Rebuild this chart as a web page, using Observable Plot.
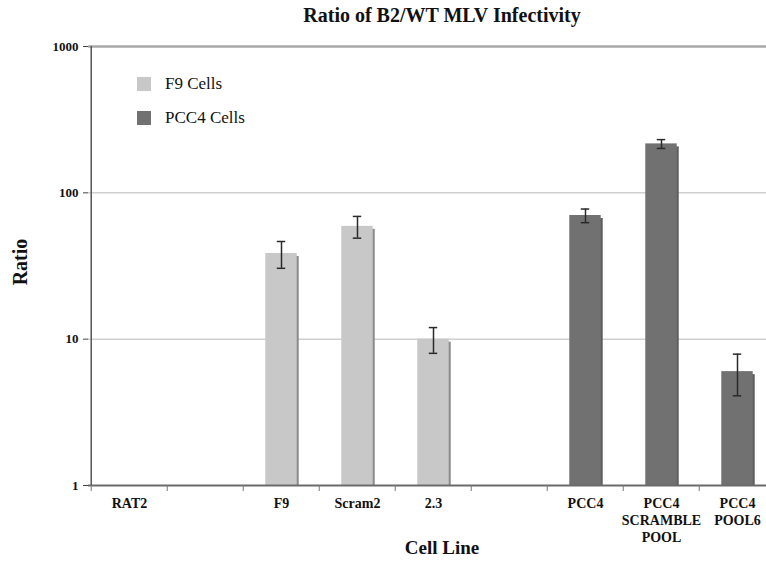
<!DOCTYPE html>
<html>
<head>
<meta charset="utf-8">
<script src="https://cdn.jsdelivr.net/npm/d3@7"></script>
<script src="https://cdn.jsdelivr.net/npm/@observablehq/plot@0.6"></script>
<style>
  html, body { margin: 0; padding: 0; background: #fff; overflow: hidden; }
  #wrap { position: relative; width: 766px; height: 571px; overflow: hidden; font-family: "Liberation Serif", "DejaVu Serif", serif; }
  #chart { position: absolute; left: 0; top: 0; width: 800px; }
  #chart svg { max-width: none !important; width: 800px; height: 571px; }
  .abs { position: absolute; white-space: nowrap; color: #111; }
  #title { left: 88px; width: 708px; top: 4px; text-align: center; font-weight: bold; font-size: 20px; }
  #xlabel { left: 88px; width: 708px; top: 537px; text-align: center; font-weight: bold; font-size: 19px; }
  #ylabel { left: 20px; top: 262px; transform: translate(-50%, -50%) rotate(-90deg); font-weight: bold; font-size: 20px; }
  .leg { left: 137px; font-size: 17px; display: flex; align-items: center; }
  .sw { width: 14px; height: 14px; display: inline-block; margin-right: 14px; }
</style>
</head>
<body>
<div id="wrap">
  <div id="chart"></div>
  <div id="title" class="abs">Ratio of B2/WT MLV Infectivity</div>
  <div id="ylabel" class="abs">Ratio</div>
  <div id="xlabel" class="abs">Cell Line</div>
  <div id="legend"></div>
</div>
<script>
// ---- data ----
const categories = ["RAT2", "gapA", "F9", "Scram2", "2.3", "gapB", "PCC4", "PCC4 SCRAMBLE POOL", "PCC4 POOL6"];
const tickLabels = ["RAT2", "", "F9", "Scram2", "2.3", "", "PCC4", "PCC4\nSCRAMBLE\nPOOL", "PCC4\nPOOL6"];
const rat2Cells = ["RAT2"];
const rat2Values = [1];
const f9Cells = ["F9", "Scram2", "2.3"];
const f9Values = [38.5, 59, 10];
const f9Errors = [8, 10, 2];
const pcc4Cells = ["PCC4", "PCC4 SCRAMBLE POOL", "PCC4 POOL6"];
const pcc4Values = [70, 216, 6];
const pcc4Errors = [7.5, 15, 1.9];
const seriesNames = ["F9 Cells", "PCC4 Cells"];
const yTicks = [1, 10, 100, 1000];

// ---- build table ----
const rows = [
  ...rat2Cells.map((c, i) => ({cat: c, value: rat2Values[i], err: 0, series: "none"})),
  ...f9Cells.map((c, i) => ({cat: c, value: f9Values[i], err: f9Errors[i], series: seriesNames[0]})),
  ...pcc4Cells.map((c, i) => ({cat: c, value: pcc4Values[i], err: pcc4Errors[i], series: seriesNames[1]}))
];
const bars = rows.filter(d => d.value > 1);
const labelOf = new Map(categories.map((c, i) => [c, tickLabels[i]]));

const fillOf = {"F9 Cells": "#c8c8c8", "PCC4 Cells": "#717171"};
const shadowOf = {"F9 Cells": "#8a8a8a", "PCC4 Cells": "#5e5e5e"};

const W = 800, H = 571, ML = 88, MR = 23, MT = 46, MB = 86;
const step = (W - ML - MR) / categories.length;
const barW = 32;
const inset = (step - barW) / 2;
const capInset = (step - 9) / 2;

const chart = Plot.plot({
  width: W, height: H,
  marginLeft: ML, marginRight: MR, marginTop: MT, marginBottom: MB,
  style: {fontFamily: "'Liberation Serif', serif", fontWeight: "bold", color: "#111", background: "transparent", maxWidth: "none"},
  x: {type: "band", domain: categories, padding: 0},
  y: {type: "log", domain: [1, 1000]},
  marks: [
    Plot.ruleY([10, 100], {stroke: "#cfcfcf", strokeWidth: 1.5}),
    Plot.ruleY([1000], {stroke: "#a8a8a8", strokeWidth: 2.5}),
    Plot.barY(bars, {x: "cat", y1: () => 1, y2: "value", fill: d => shadowOf[d.series], dx: 2, insetTop: 3, insetLeft: inset, insetRight: inset}),
    Plot.barY(bars, {x: "cat", y1: () => 1, y2: "value", fill: d => fillOf[d.series], insetLeft: inset, insetRight: inset}),
    Plot.ruleX(bars, {x: "cat", y1: d => d.value - d.err, y2: d => d.value + d.err, stroke: "#2a2a2a", strokeWidth: 1.5}),
    Plot.tickY(bars, {x: "cat", y: d => d.value - d.err, stroke: "#2a2a2a", strokeWidth: 1.5, insetLeft: capInset, insetRight: capInset}),
    Plot.tickY(bars, {x: "cat", y: d => d.value + d.err, stroke: "#2a2a2a", strokeWidth: 1.5, insetLeft: capInset, insetRight: capInset}),
    Plot.ruleY([1], {stroke: "#6a6a6a", strokeWidth: 2}),
    Plot.ruleX([categories[0]], {x: d => d, dx: -step / 2, y1: () => 1, y2: () => 1000, stroke: "#555", strokeWidth: 1.5}),
    Plot.ruleX(categories, {x: d => d, dx: -step / 2, y1: () => 1, y2: () => 1, insetBottom: -6, stroke: "#777", strokeWidth: 1}),
    Plot.axisX({tickSize: 0, tickPadding: 10, tickFormat: d => labelOf.get(d), fontSize: 14, lineHeight: 1.22, fontWeight: "bold", fill: "#111", label: null}),
    Plot.axisY({ticks: yTicks, tickFormat: d3.format("d"), tickSize: 5, tickPadding: 5, fontSize: 13, fontWeight: "bold", fill: "#111", stroke: "#444", label: null})
  ]
});
document.getElementById("chart").appendChild(chart);

// legend (inside plot area)
const legend = document.getElementById("legend");
seriesNames.forEach((s, i) => {
  const div = document.createElement("div");
  div.className = "abs leg";
  div.style.top = (i === 0 ? 74 : 108) + "px";
  div.innerHTML = `<span class="sw" style="background:${fillOf[s]}"></span><span>${s}</span>`;
  legend.appendChild(div);
});
</script>
</body>
</html>
